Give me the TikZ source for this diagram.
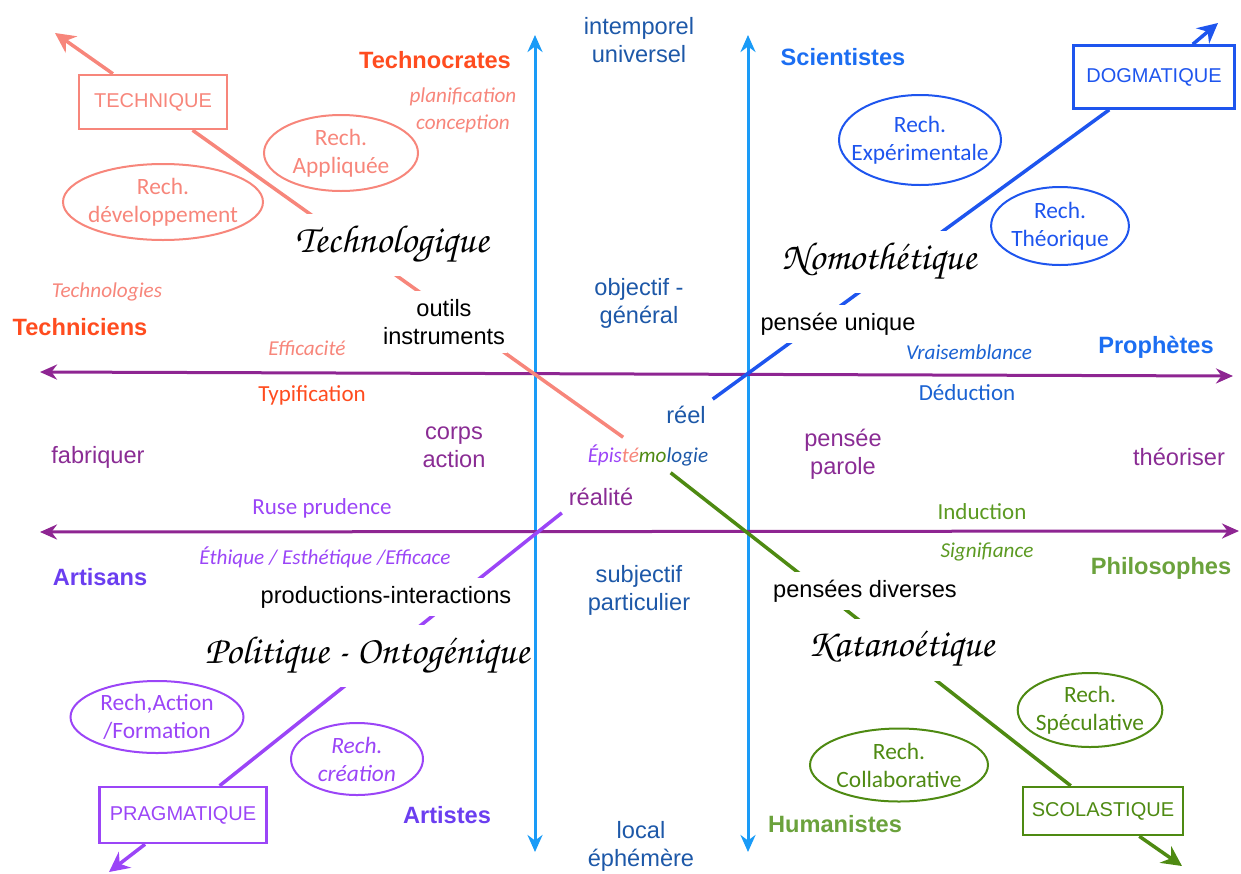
\documentclass[tikz,border=0pt]{standalone}
\usepackage[T1,TU]{fontenc}
\usepackage{fontspec}
\setmainfont{Liberation Sans}
\newfontfamily\gill{Carlito}
\newcommand\chancery{\fontencoding{T1}\fontfamily{pzc}\fontseries{mb}\fontshape{it}\selectfont}
\usetikzlibrary{arrows.meta,shapes.geometric}
\pgfdeclarelayer{bg}
\pgfsetlayers{bg,main}
\definecolor{salmonC}{HTML}{F7867B}
\definecolor{redC}{HTML}{FF4C1F}
\definecolor{blueC}{HTML}{1E55EE}
\definecolor{sciC}{HTML}{1C6EF2}
\definecolor{dedC}{HTML}{1A62D2}
\definecolor{navyC}{HTML}{1D58A8}
\definecolor{axisC}{HTML}{1A9BF7}
\definecolor{purpC}{HTML}{8E2592}
\definecolor{purpT}{HTML}{8A2C94}
\definecolor{violC}{HTML}{9B45F7}
\definecolor{artC}{HTML}{6B3EF0}
\definecolor{greenC}{HTML}{4E8A12}
\definecolor{greenT}{HTML}{5C9A22}
\definecolor{philC}{HTML}{6BA23C}

\begin{document}
\begin{tikzpicture}[x=0.5pt,y=-0.5pt,
  every node/.style={align=center},
  lbl/.style={font=\fontsize{11.8}{14}\selectfont},
  grp/.style={font=\bfseries\fontsize{11.8}{14}\selectfont},
  gl/.style={font=\gill\fontsize{11.5}{14}\selectfont},
  gli/.style={font=\gill\itshape\fontsize{10.6}{13.5}\selectfont},
  gap/.style={fill=white,inner xsep=1pt,inner ysep=4pt},
  calli/.style={font=\fontsize{19.5}{22}\chancery,fill=white,inner xsep=1pt,minimum height=31pt},
  rech/.style={ellipse,draw,line width=1pt,inner sep=0pt,font=\gill\fontsize{11.7}{14}\selectfont},
  pole/.style={draw,line width=1.25pt,font=\fontsize{10}{12}\selectfont},
  axe/.style={line width=1.5pt,{Stealth[length=8.5pt,width=7.5pt]}-{Stealth[length=8.5pt,width=7.5pt]}},
  diag/.style={line width=1.75pt},
  pointe/.style={diag,-{Stealth[length=10pt,width=10pt]}}]
\useasboundingbox (0,0) rectangle (1241,873);

\coordinate (axLtop) at (535,35);
\coordinate (axLbot) at (535,852);
\coordinate (axRtop) at (748,35);
\coordinate (axRbot) at (748,852);
\coordinate (axHaL) at (40,372);
\coordinate (axHaR) at (1233,376);
\coordinate (axHbL) at (40,532);
\coordinate (axHbR) at (1239,531);
\coordinate (techtip) at (55,33);
\coordinate (bluetip) at (1218,23);
\coordinate (violtip) at (109,872);
\coordinate (greentip) at (1182,866);

\node[lbl,navyC] (intemp) at (639,40) {intemporel\\universel};
\node[lbl,navyC] (objectif) at (639,303) {objectif -\\général};
\node[lbl,navyC] (subjectif) at (639,590) {subjectif\\particulier};
\node[lbl,navyC] (local) at (641,846) {local\\éphémère};

\node[grp,redC] (technocr) at (435,60) {Technocrates};
\node[grp,redC] (technic) at (80,327) {Techniciens};
\node[grp,sciC] (scient) at (843,57) {Scientistes};
\node[grp,sciC] (prophet) at (1156,347) {Prophètes};
\node[grp,artC] (artisans) at (100,577) {Artisans};
\node[grp,artC] (artistes) at (447,815) {Artistes};
\node[grp,philC] (philo) at (1161,568) {Philosophes};
\node[grp,philC] (human) at (835,824) {Humanistes};

\node[gli,salmonC] (planif) at (463,110) {planification\\conception};
\node[gli,salmonC] (technolgs) at (107,292) {Technologies};
\node[gli,salmonC] (effic) at (307,348) {Efficacité};
\node[gl,redC] (typif) at (312,395) {Typification};
\node[gli,dedC] (vraisem) at (969,352) {Vraisemblance};
\node[gl,dedC] (deduc) at (967,393) {Déduction};
\node[gl,violC] (ruse) at (322,508) {Ruse prudence};
\node[gli,violC] (ethique) at (325,557) {Éthique / Esthétique /Efficace};
\node[gl,greenT] (induc) at (982,512) {Induction};
\node[gli,greenT] (signif) at (987,552) {Signifiance};

\node[lbl,purpT] (fabriq) at (98,457) {fabriquer};
\node[lbl,purpT] (corps) at (454,447) {corps\\action};
\node[lbl,purpT] (parole) at (843,454) {pensée\\parole};
\node[lbl,purpT] (theor) at (1179,457) {théoriser};
\node[lbl,navyC] (reel) at (686,415) {réel};
\node[lbl,purpT] (realite) at (601,497) {réalité};
\node[gli] (episteme) at (648,455) {\textcolor{violC}{Épis}\textcolor{salmonC}{té}\textcolor{greenC}{mo}\textcolor{navyC}{logie}};

\node[lbl,gap] (outils) at (444,322) {outils\\instruments};
\node[lbl,gap] (unique) at (838,324) {pensée unique};
\node[lbl,gap] (prodint) at (386,597) {productions-interactions};
\node[lbl,gap] (diverses) at (865,591) {pensées diverses};

\node[calli] (technolog) at (392,245) {Technologique};
\node[calli] (nomoth) at (879,262) {Nomothétique};
\node[calli] (politiq) at (367,656) {Politique - Ontogénique};
\node[calli] (katano) at (901,650) {Katanoétique};

\node[pole,salmonC,minimum width=74pt,minimum height=27pt] (technique) at (153,102) {TECHNIQUE};
\node[pole,blueC,minimum width=80.5pt,minimum height=31.5pt] (dogma) at (1154,77) {DOGMATIQUE};
\node[pole,violC,minimum width=83.5pt,minimum height=28pt] (pragma) at (183,815) {PRAGMATIQUE};
\node[pole,greenC,minimum width=80pt,minimum height=24pt] (scolast) at (1103,811) {SCOLASTIQUE};

\node[rech,salmonC,minimum width=77pt,minimum height=38pt] (appliq) at (341,153) {Rech.\\Appliquée};
\node[rech,salmonC,minimum width=100pt,minimum height=38pt,inner xsep=-3pt] (develop) at (163,202) {Rech.\\développement};
\node[rech,blueC,minimum width=81pt,minimum height=45pt,inner xsep=-5.8pt] (experim) at (920,140) {Rech.\\Expérimentale};
\node[rech,blueC,minimum width=65.5pt,minimum height=39pt] (theoriq) at (1060,226) {Rech.\\Théorique};
\node[rech,violC,minimum width=86.5pt,minimum height=36pt] (action) at (157,717) {Rech,Action\\/Formation};
\node[rech,violC,minimum width=66pt,minimum height=36pt,font=\gill\itshape\fontsize{11.7}{14}\selectfont] (creation) at (357,759) {Rech.\\création};
\node[rech,greenC,minimum width=71pt,minimum height=37pt,inner xsep=-1.5pt] (specul) at (1090,710) {Rech.\\Spéculative};
\node[rech,greenC,minimum width=89pt,minimum height=36.5pt] (collab) at (899,765) {Rech.\\Collaborative};

\begin{pgfonlayer}{bg}
\draw[axe,axisC] (axLbot) -- (axLtop);
\draw[axe,axisC] (axRbot) -- (axRtop);
\draw[axe,purpC] (axHaL) -- (axHaR);
\draw[axe,purpC] (axHbL) -- (axHbR);
\draw[diag,salmonC] (episteme) -- (technique);
\draw[pointe,salmonC] (technique) -- (techtip);
\draw[diag,blueC] (reel.north east) -- (dogma);
\draw[pointe,blueC] (dogma) -- (bluetip);
\draw[diag,greenC] (episteme) -- (scolast);
\draw[pointe,greenC] (scolast) -- (greentip);
\draw[diag,violC] (realite.south west) -- (pragma);
\draw[pointe,violC] (pragma) -- (violtip);
\end{pgfonlayer}
\end{tikzpicture}
\end{document}
